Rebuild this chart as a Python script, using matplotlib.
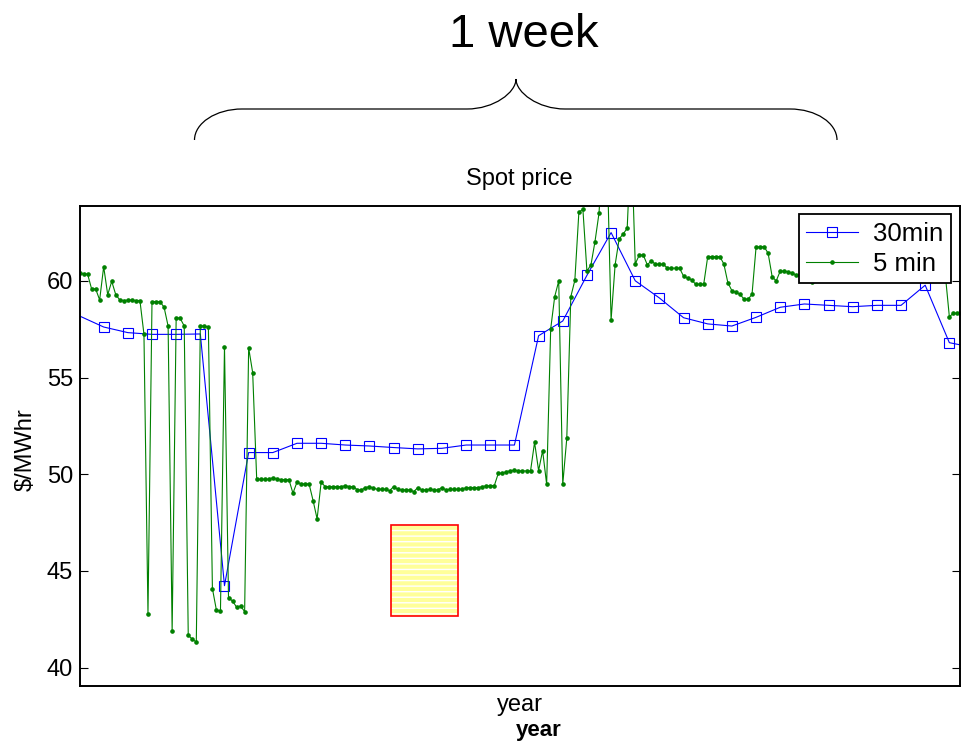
import numpy as np
import matplotlib
matplotlib.use("Agg")
import matplotlib.pyplot as plt
from matplotlib.patches import Rectangle, PathPatch
from matplotlib.path import Path

plt.rcParams['font.family'] = ['Liberation Sans', 'DejaVu Sans']

# ---- data -------------------------------------------------------------
# 30-minute spot price, one value per half hour (index = half-hour step)
price_30min = [58.18, 57.61, 57.32, 57.23, 57.23, 57.25, 44.24, 51.12, 51.12,
               51.60, 51.60, 51.51, 51.46, 51.38, 51.31, 51.34, 51.51, 51.51,
               51.51, 57.16, 57.92, 60.28, 62.49, 60.00, 59.11, 58.09, 57.77,
               57.66, 58.11, 58.63, 58.80, 58.73, 58.66, 58.73, 58.73, 59.77,
               56.80, 56.55]

# 5-minute spot price (six values per half hour)
price_5min = [
    60.40, 60.35, 60.35, 59.58, 59.58, 59.01, 60.73, 59.28, 59.97, 59.28,
    59.01, 58.98, 59.00, 59.00, 58.98, 58.98, 57.24, 42.78, 58.92, 58.92,
    58.92, 58.63, 57.66, 41.89, 58.09, 58.06, 57.66, 41.68, 41.47, 41.33,
    57.66, 57.66, 57.61, 44.09, 42.97, 42.94, 56.59, 43.61, 43.45, 43.13,
    43.19, 42.90, 56.54, 55.25, 49.74, 49.74, 49.74, 49.74, 49.82, 49.76,
    49.72, 49.72, 49.72, 49.02, 49.59, 49.50, 49.50, 49.50, 48.64, 47.69,
    49.59, 49.36, 49.36, 49.36, 49.36, 49.36, 49.41, 49.36, 49.36, 49.19,
    49.19, 49.31, 49.36, 49.28, 49.22, 49.22, 49.22, 49.15, 49.36, 49.22,
    49.19, 49.19, 49.19, 49.10, 49.31, 49.19, 49.19, 49.22, 49.19, 49.19,
    49.31, 49.19, 49.22, 49.22, 49.22, 49.22, 49.31, 49.31, 49.31, 49.31,
    49.36, 49.40, 49.40, 49.41, 50.05, 50.05, 50.14, 50.17, 50.22, 50.17,
    50.17, 50.17, 50.17, 51.65, 50.19, 51.22, 49.48, 57.51, 59.18, 59.99,
    49.48, 51.86, 59.18, 60.02, 63.54, 63.70, 60.50, 60.82, 62.02, 63.49,
    67.00, 66.50, 57.97, 60.82, 62.16, 62.42, 62.71, 67.50, 60.87, 61.33,
    61.33, 60.82, 61.04, 60.85, 60.85, 60.85, 60.65, 60.65, 60.65, 60.65,
    60.24, 60.13, 60.05, 59.82, 59.82, 59.82, 61.25, 61.25, 61.25, 61.25,
    60.87, 59.90, 59.49, 59.40, 59.30, 59.06, 59.04, 59.30, 61.73, 61.76,
    61.76, 61.42, 60.21, 59.99, 60.50, 60.50, 60.47, 60.39, 60.30, 60.30,
    60.30, 60.30, 59.95, 60.40, 60.40, 60.40, 60.40, 60.40, 60.40, 60.40,
    60.40, 60.40, 60.40, 60.40, 60.04, 60.04, 60.04, 60.04, 60.40, 60.40,
    60.40, 60.40, 60.40, 60.40, 60.40, 60.40, 60.40, 60.40, 60.40, 60.40,
    60.40, 60.40, 60.40, 60.40, 60.40, 60.30, 58.14, 58.32, 58.32, 58.32]

series_labels = ['30min', '5 min']
y_ticks = [40, 45, 50, 55, 60]

# highlighted box (half-hour steps, $/MWhr)
box_t = [12.88, 15.68]
box_price = [42.68, 47.38]

# ---- figure -----------------------------------------------------------
W, H = 961, 743
fig = plt.figure(figsize=(W / 100, H / 100), dpi=100)
ax = fig.add_axes([80 / W, 1 - 685.7 / H, 879.5 / W, 480 / H])

t30 = np.arange(len(price_30min))
t5 = np.arange(len(price_5min)) / 6.0

ax.plot(t30, price_30min, color='#0000ff', lw=0.8, marker='s', ms=7.2,
        mfc='none', mec='#0000ff', mew=0.8,
        markevery=list(range(1, len(price_30min))), label=series_labels[0])
ax.plot(t5, price_5min, color='#008000', lw=0.8, marker='o', ms=2.3,
        mec='#008000', mfc='#008000', label=series_labels[1])

# hatched box
ax.add_patch(Rectangle((box_t[0], box_price[0]), box_t[1] - box_t[0],
                       box_price[1] - box_price[0], facecolor='#ffff99',
                       edgecolor='white', hatch='---', lw=0, zorder=3))
ax.add_patch(Rectangle((box_t[0], box_price[0]), box_t[1] - box_t[0],
                       box_price[1] - box_price[0], fill=False,
                       edgecolor='#ff0000', lw=1.2, zorder=4))

ax.set_xlim(0.02, 36.42)
ax.set_ylim(39.07, 63.88)
ax.set_xticks([])
ax.set_yticks(y_ticks)
ax.tick_params(axis='y', direction='in', length=6, width=0.8, pad=5,
               labelsize=17, right=True, colors='black')
for s in ax.spines.values():
    s.set_linewidth(1.4)

ax.set_title('Spot price', fontsize=17, pad=15)
ax.set_xlabel('year', fontsize=17)
ax.xaxis.label.set_verticalalignment('baseline')
ax.xaxis.set_label_coords(0.5, (685.7 - 711) / 480)
ax.set_ylabel('$/MWhr', fontsize=17)
ax.yaxis.label.set_verticalalignment('center')
ax.yaxis.set_label_coords((26 - 80) / 879.5, (685.7 - 450) / 480)

leg = ax.legend(loc='upper right', fontsize=18.5, numpoints=1, fancybox=False,
                framealpha=1, edgecolor='black', borderaxespad=0.33,
                handlelength=2.0, handletextpad=0.6, labelspacing=0.22,
                borderpad=0.3)
leg.get_frame().set_linewidth(1.3)

fig.text(539 / W, 1 - 736 / H, 'year', fontsize=16, fontweight='bold',
         ha='center', va='baseline')
fig.text(524 / W, 1 - 47 / H, '1 week', fontsize=34, ha='center',
         va='baseline')

# curly brace (figure pixels -> figure fraction)
def P(x, y):
    return (x / W, 1 - y / H)

verts = [P(194.5, 140), P(194.5, 123), P(216, 109), P(242, 109),
         P(467, 109),
         P(494, 109), P(516, 92.5), P(516, 79),
         P(516, 92.5), P(538, 109), P(565, 109),
         P(790, 109),
         P(816, 109), P(837, 123), P(837, 140)]
codes = [Path.MOVETO, Path.CURVE4, Path.CURVE4, Path.CURVE4,
         Path.LINETO,
         Path.CURVE4, Path.CURVE4, Path.CURVE4,
         Path.CURVE4, Path.CURVE4, Path.CURVE4,
         Path.LINETO,
         Path.CURVE4, Path.CURVE4, Path.CURVE4]
fig.add_artist(PathPatch(Path(verts, codes), transform=fig.transFigure,
                         fill=False, edgecolor='black', lw=0.9))

fig.savefig('out.png', dpi=100)
